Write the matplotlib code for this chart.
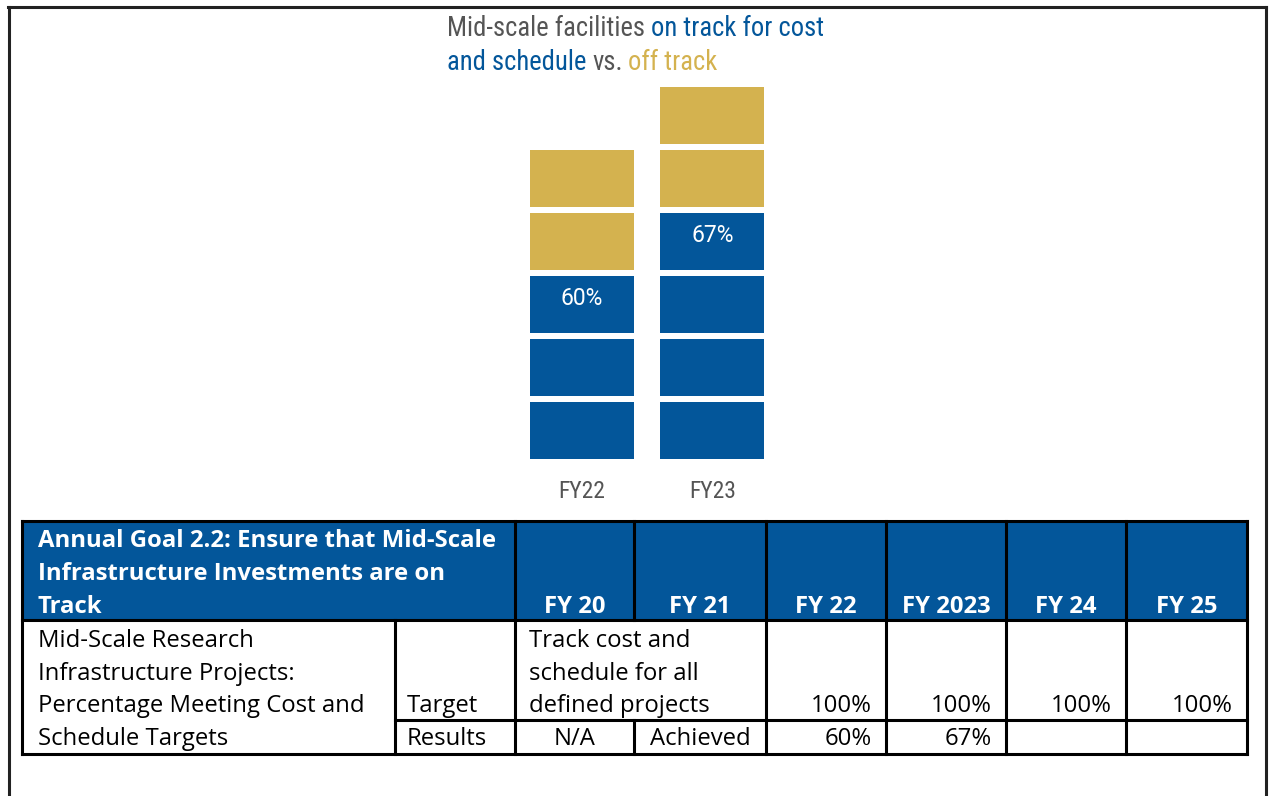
import matplotlib
matplotlib.use('Agg')
import matplotlib.pyplot as plt
from matplotlib.patches import Rectangle
from matplotlib import font_manager

# data
years = ['FY22', 'FY23']
on_track = [3, 4]
off_track = [2, 2]
pct_labels = ['60%', '67%']

title_parts_1 = [('Mid-scale facilities', 'gray'), ('on track for cost', 'blue')]
title_parts_2 = [('and schedule', 'blue'), ('vs.', 'gray'), ('off track', 'gold')]

header_goal = ['Annual Goal 2.2: Ensure that Mid-Scale',
               'Infrastructure Investments are on',
               'Track']
table_years = ['FY 20', 'FY 21', 'FY 22', 'FY 2023', 'FY 24', 'FY 25']
measure_lines = ['Mid-Scale Research', 'Infrastructure Projects:',
                 'Percentage Meeting Cost and', 'Schedule Targets']
target_text = ['Track cost and', 'schedule for all', 'defined projects']
target_vals = ['100%', '100%', '100%', '100%']      # FY22..FY25
result_vals = ['N/A', 'Achieved', '60%', '67%', '', '']

BLUE = '#03569a'
GOLD = '#d4b24f'
GRAY = '#555555'
colors = {'blue': BLUE, 'gold': GOLD, 'gray': GRAY}

names = {f.name for f in font_manager.fontManager.ttflist}
narrow = 'Roboto'
title_fs = 17.0
tick_fs = 15.5
for cand in ['Roboto Condensed', 'Liberation Sans Narrow', 'Arial Narrow']:
    if cand in names:
        narrow = cand
        title_fs = 19.2
        tick_fs = 17
        break
body_font = 'Open Sans'

W, H = 1270, 796
fig = plt.figure(figsize=(W / 100, H / 100), dpi=100)

# overlay axes in pixel coords (for frame, title, table)
tab = fig.add_axes([0, 0, 1, 1])
tab.set_xlim(0, W)
tab.set_ylim(H, 0)
tab.axis('off')

# ---- bar chart of stacked blocks ----
pitch = 63.06
y0 = 459.0
ax_left, ax_right = 503.4, 790.6
ax_top = y0 - 6 * pitch
ax = fig.add_axes([ax_left / W, (H - y0) / H, (ax_right - ax_left) / W, (y0 - ax_top) / H])
ax.set_xlim(-0.6, 1.6)
ax.set_ylim(0, 6)
for i, yr in enumerate(years):
    for k in range(on_track[i] + off_track[i]):
        c = BLUE if k < on_track[i] else GOLD
        ax.bar(i, 0.9, bottom=k, width=0.8, color=c, clip_on=False)
    ax.text(i, on_track[i] - 1 + 0.54, pct_labels[i], ha='center', va='center',
            color='white', fontsize=16.5, family='Roboto')
ax.set_xticks(range(len(years)))
ax.set_xticklabels(years, fontsize=tick_fs, color=GRAY, family=narrow)
ax.tick_params(axis='x', length=0, pad=15)
ax.set_yticks([])
for s in ax.spines.values():
    s.set_visible(False)
ax.patch.set_alpha(0)

# ---- title with mixed colours ----
def colored_line(x, y, parts):
    prev = None
    for txt, col in parts:
        if prev is None:
            prev = tab.text(x, y, txt, color=colors[col], fontsize=title_fs, family=narrow,
                            va='baseline', ha='left')
        else:
            prev = tab.annotate(txt, xy=(1, 0), xycoords=prev, xytext=(4.0, 0),
                                textcoords='offset points', color=colors[col],
                                fontsize=title_fs, family=narrow, va='bottom', ha='left')

colored_line(447, 36, title_parts_1)
colored_line(447, 70, title_parts_2)

# ---- outer frame ----
tab.plot([8, 1266], [7, 7], color='#222222', lw=2.2)
tab.plot([8.5, 8.5], [7, H], color='#222222', lw=2.2)
tab.plot([1265.5, 1265.5], [7, H], color='#222222', lw=2.2)

# ---- table ----
cols = [22, 395, 515, 634, 766, 886, 1006, 1126, 1247]
t_top, h_bot, r_mid, t_bot = 521, 620, 720, 754
tab.add_patch(Rectangle((cols[0], t_top), cols[-1] - cols[0], h_bot - t_top,
                        color=BLUE, lw=0))
lw = 2.2
k = 'black'
for y in [t_top, h_bot, t_bot]:
    tab.plot([cols[0], cols[-1]], [y, y], color=k, lw=lw)
tab.plot([cols[1], cols[-1]], [r_mid, r_mid], color=k, lw=lw)
for x in [cols[0], cols[2], cols[4], cols[5], cols[6], cols[7], cols[8]]:
    tab.plot([x, x], [t_top, t_bot], color=k, lw=lw)
tab.plot([cols[1], cols[1]], [h_bot, t_bot], color=k, lw=lw)
tab.plot([cols[3], cols[3]], [t_top, h_bot], color=k, lw=lw)
tab.plot([cols[3], cols[3]], [r_mid, t_bot], color=k, lw=lw)

fs = 17.2
base_h = [547, 580, 613]
for line, yb in zip(header_goal, base_h):
    tab.text(38, yb, line, color='white', fontsize=fs, fontweight='bold',
             family=body_font, va='baseline')
for i, yr in enumerate(table_years):
    xc = (cols[i + 2] + cols[i + 3]) / 2
    tab.text(xc, 613, yr, color='white', fontsize=fs, fontweight='bold',
             family=body_font, va='baseline', ha='center')

base_b = [647, 680, 712, 745]
for line, yb in zip(measure_lines, base_b):
    tab.text(38, yb, line, fontsize=fs, family=body_font, va='baseline')
tab.text(407, 712, 'Target', fontsize=fs, family=body_font, va='baseline')
tab.text(407, 745, 'Results', fontsize=fs, family=body_font, va='baseline')
for line, yb in zip(target_text, base_b[:3]):
    tab.text(529, yb, line, fontsize=fs, family=body_font, va='baseline')
for i, v in enumerate(target_vals):
    tab.text(cols[i + 5] - 14, 712, v, fontsize=fs, family=body_font,
             va='baseline', ha='right')
for i, v in enumerate(result_vals):
    if i < 2:
        xc = (cols[i + 2] + cols[i + 3]) / 2
        tab.text(xc, 745, v, fontsize=fs, family=body_font, va='baseline', ha='center')
    else:
        tab.text(cols[i + 3] - 14, 745, v, fontsize=fs, family=body_font,
                 va='baseline', ha='right')

fig.savefig('out.png', dpi=100)
